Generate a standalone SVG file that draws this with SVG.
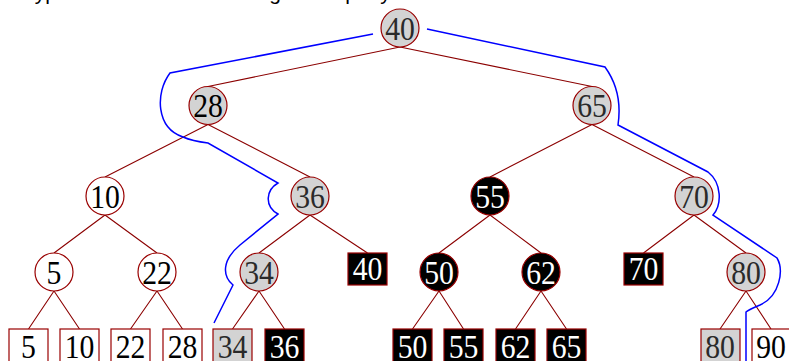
<svg xmlns="http://www.w3.org/2000/svg" width="789" height="361" viewBox="0 0 789 361">
<style>
.e{stroke:#8b0000;stroke-width:1.1;fill:none}
.c{stroke:#990000;stroke-width:1.2}
.w{fill:#fff}.g{fill:#d3d3d3}.k{fill:#000}
.t{font-family:"Liberation Serif","DejaVu Serif",serif;font-size:33px;text-anchor:middle;fill:#000}
.tg{fill:#2a2a2a}
.tw{fill:#fff}
.b{stroke:#0000ff;stroke-width:1.5;fill:none}
.cap{font-family:"Liberation Sans","DejaVu Sans",sans-serif;font-size:21px;fill:#000}
</style>
<text class="cap" x="23" y="-0.5">Typical nodes visited during each query</text>
<g id="edges">
<path class="e" d="M400,47L208,86.5M400,47L592,86.5
M208,124.5L105,177M208,124.5L310,177
M592,124.5L490,177M592,124.5L694,177
M105,215L54,253M105,215L157,253
M310,215L259,253M310,215L367.5,253
M490,215L439,253M490,215L541,253
M694,215L643.5,253M694,215L746,253
M54,291L28.5,329M54,291L79.5,329
M157,291L130.5,329M157,291L182.5,329
M259,291L232.5,329M259,291L284.5,329
M439,291L412.5,329M439,291L463.5,329
M541,291L515.5,329M541,291L566.5,329
M746,291L720,329M746,291L771,329"/>
</g>
<g id="query-path">
<path class="b" d="M373,34L170,73C155,93 156,128 183,137Q192,141 208,143L278,183C266,190 264,206 278,214L240,245C222,260 222,276 233,285L214,323"/>
<path class="b" d="M427,29L605,67C618,85 621,105 618,125L708,172C722,183 722,205 713,215L777,258C784,270 780,296 760,305Q748,310 746,312L746,361"/>
</g>
<g id="n40"><circle class="c g" cx="400" cy="28" r="19"/><text class="t tg" transform="translate(400 39.5) scale(0.9 1)">40</text></g>
<g id="n28"><circle class="c g" cx="208" cy="105.5" r="19"/><text class="t" transform="translate(208 117) scale(0.9 1)">28</text></g>
<g id="n65"><circle class="c g" cx="592" cy="105.5" r="19"/><text class="t tg" transform="translate(592 117) scale(0.9 1)">65</text></g>
<g id="n10"><circle class="c w" cx="105" cy="196" r="19"/><text class="t" transform="translate(105 207.5) scale(0.9 1)">10</text></g>
<g id="n36"><circle class="c g" cx="310" cy="196" r="19"/><text class="t tg" transform="translate(310 207.5) scale(0.9 1)">36</text></g>
<g id="n55"><circle class="c k" cx="490" cy="196" r="19"/><text class="t tw" transform="translate(490 207.5) scale(0.9 1)">55</text></g>
<g id="n70"><circle class="c g" cx="694" cy="196" r="19"/><text class="t tg" transform="translate(694 207.5) scale(0.9 1)">70</text></g>
<g id="n5"><circle class="c w" cx="54" cy="272" r="19"/><text class="t" transform="translate(54 283.5) scale(0.9 1)">5</text></g>
<g id="n22"><circle class="c w" cx="157" cy="272" r="19"/><text class="t" transform="translate(157 283.5) scale(0.9 1)">22</text></g>
<g id="n34"><circle class="c g" cx="259" cy="272" r="19"/><text class="t tg" transform="translate(259 283.5) scale(0.9 1)">34</text></g>
<g id="r40"><rect class="c k" x="348" y="253" width="39" height="32"/><text class="t tw" transform="translate(367.5 280) scale(0.9 1)">40</text></g>
<g id="n50"><circle class="c k" cx="439" cy="272" r="19"/><text class="t tw" transform="translate(439 283.5) scale(0.9 1)">50</text></g>
<g id="n62"><circle class="c k" cx="541" cy="272" r="19"/><text class="t tw" transform="translate(541 283.5) scale(0.9 1)">62</text></g>
<g id="r70"><rect class="c k" x="624" y="253" width="39" height="32"/><text class="t tw" transform="translate(643.5 280) scale(0.9 1)">70</text></g>
<g id="n80"><circle class="c g" cx="746" cy="272" r="19"/><text class="t tg" transform="translate(746 283.5) scale(0.9 1)">80</text></g>
<g id="l5"><rect class="c w" x="9" y="329" width="39" height="33"/><text class="t" transform="translate(28.5 358) scale(0.9 1)">5</text></g>
<g id="l10"><rect class="c w" x="60" y="329" width="39" height="33"/><text class="t" transform="translate(79.5 358) scale(0.9 1)">10</text></g>
<g id="l22"><rect class="c w" x="111" y="329" width="39" height="33"/><text class="t" transform="translate(130.5 358) scale(0.9 1)">22</text></g>
<g id="l28"><rect class="c w" x="163" y="329" width="39" height="33"/><text class="t" transform="translate(182.5 358) scale(0.9 1)">28</text></g>
<g id="l34"><rect class="c g" x="213" y="329" width="39" height="33"/><text class="t tg" transform="translate(232.5 358) scale(0.9 1)">34</text></g>
<g id="l36"><rect class="c k" x="265" y="329" width="39" height="33"/><text class="t tw" transform="translate(284.5 358) scale(0.9 1)">36</text></g>
<g id="l50"><rect class="c k" x="393" y="329" width="39" height="33"/><text class="t tw" transform="translate(412.5 358) scale(0.9 1)">50</text></g>
<g id="l55"><rect class="c k" x="444" y="329" width="39" height="33"/><text class="t tw" transform="translate(463.5 358) scale(0.9 1)">55</text></g>
<g id="l62"><rect class="c k" x="496" y="329" width="39" height="33"/><text class="t tw" transform="translate(515.5 358) scale(0.9 1)">62</text></g>
<g id="l65"><rect class="c k" x="547" y="329" width="39" height="33"/><text class="t tw" transform="translate(566.5 358) scale(0.9 1)">65</text></g>
<g id="l80"><rect class="c g" x="701" y="329" width="39" height="33"/><text class="t tg" transform="translate(720 358) scale(0.9 1)">80</text></g>
<g id="l90"><rect class="c w" x="752" y="329" width="39" height="33"/><text class="t" transform="translate(771 358) scale(0.9 1)">90</text></g>
</svg>
